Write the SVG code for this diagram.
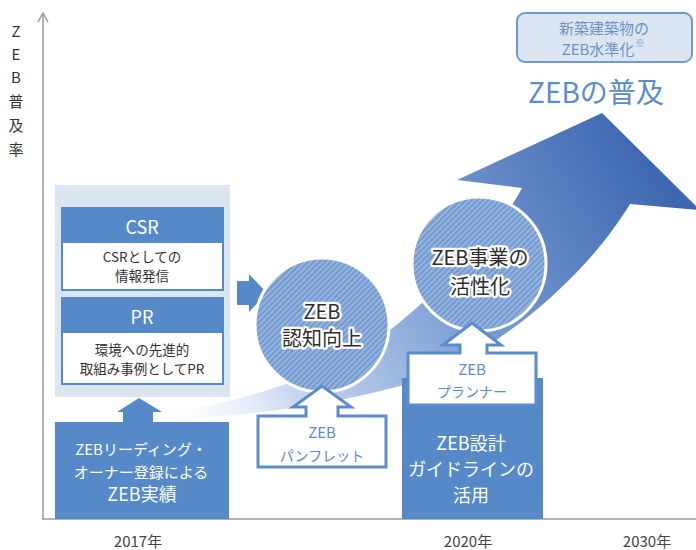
<svg xmlns="http://www.w3.org/2000/svg" width="696" height="550" viewBox="0 0 696 550">
<style>
text{font-family:"Noto Sans CJK JP","Noto Sans",sans-serif;}
.wt{fill:#ffffff;text-anchor:middle;}
.dk{fill:#333333;text-anchor:middle;}
.bl{fill:#5b8ccb;text-anchor:middle;}
.halo{fill:#2d2d2d;text-anchor:middle;stroke:#ffffff;stroke-width:4.5;stroke-linejoin:round;paint-order:stroke;font-size:20px;}
.blue{fill:#5589c8;}
.wbox{fill:#ffffff;stroke:#5589c8;stroke-width:2;}
.circ{fill:url(#hatch);stroke:#ffffff;stroke-width:3;}
.outl{fill:#ffffff;stroke:#5b8ccb;stroke-width:3;stroke-linejoin:miter;}
.axis{stroke:#9a9a9a;stroke-width:1.5;fill:none;}
</style>
<defs>
<pattern id="hatch" patternUnits="userSpaceOnUse" width="4" height="4" patternTransform="rotate(45)">
<rect width="4" height="4" fill="#729ad0"/>
<line x1="1" y1="0" x2="1" y2="4" stroke="#a9c2e6" stroke-width="1.3"/>
</pattern>
<linearGradient id="band" gradientUnits="userSpaceOnUse" x1="150" y1="425" x2="640" y2="140">
<stop offset="0" stop-color="#ffffff" stop-opacity="0"/>
<stop offset="0.25" stop-color="#c6d6ee"/>
<stop offset="0.55" stop-color="#7fa2d6"/>
<stop offset="1" stop-color="#3e67b1"/>
</linearGradient>
</defs>

<g id="axes">
<line class="axis" x1="43" y1="520" x2="43" y2="14"/>
<polyline class="axis" points="38,22 43,13 48,22"/>
<line class="axis" x1="43" y1="519" x2="696" y2="519"/>
<g class="dk" style="font-size:15px">
<text x="16" y="37">Z</text>
<text x="16" y="60">E</text>
<text x="16" y="83">B</text>
<text x="16" y="107">普</text>
<text x="16" y="131">及</text>
<text x="16" y="155">率</text>
</g>
<g class="dk" style="font-size:15px;fill:#444">
<text x="138" y="547">2017年</text>
<text x="468" y="547">2020年</text>
<text x="647" y="547">2030年</text>
</g>
</g>

<g id="growth-arrow">
<path fill="url(#band)" d="M140,418 C230,405 330,380 400,322 C450,280 500,230 522,188 L457,180 L602,113 L700,210 L630,204 C590,270 510,345 420,380 C330,408 230,418 140,420 Z"/>
</g>

<g id="goal">
<rect x="517" y="13" width="175" height="49" rx="8" fill="#dce6f2" stroke="#6f9ad0" stroke-width="2"/>
<text class="bl" x="604" y="34" style="font-size:15px;fill:#6b94c9">新築建築物の</text>
<text class="bl" x="598" y="55" style="font-size:15px;fill:#6b94c9">ZEB水準化</text>
<text x="635" y="47" style="font-size:10px;fill:#6b94c9">※</text>
<text x="528" y="103" style="font-size:28px;fill:#5b8ccb">ZEBの普及</text>
</g>

<g id="panel">
<rect x="55" y="185" width="175" height="212" fill="#dce6f1"/>
<g id="csr">
<rect class="wbox" x="62" y="242" width="161" height="48"/>
<rect class="blue" x="61" y="207" width="163" height="36"/>
<text class="wt" x="142" y="234" style="font-size:18px">CSR</text>
<text class="dk" x="142" y="262" style="font-size:13.5px">CSRとしての</text>
<text class="dk" x="142" y="281" style="font-size:13.5px">情報発信</text>
</g>
<g id="pr">
<rect class="wbox" x="62" y="332" width="161" height="52"/>
<rect class="blue" x="61" y="297" width="163" height="36"/>
<text class="wt" x="142" y="324" style="font-size:18px">PR</text>
<text class="dk" x="142" y="355" style="font-size:13.5px">環境への先進的</text>
<text class="dk" x="142" y="374" style="font-size:13.5px">取組み事例としてPR</text>
</g>
</g>

<g id="connectors">
<path class="blue" d="M237,281 L249,281 L249,274 L267,293 L249,312 L249,305 L237,305 Z"/>
<path class="blue" d="M123,422 L123,412 L117,412 L139,398 L162,412 L153,412 L153,422 Z"/>
</g>

<g id="record">
<rect class="blue" x="55" y="422" width="174" height="97"/>
<text class="wt" x="141" y="455" style="font-size:15px">ZEBリーディング・</text>
<text class="wt" x="141" y="478" style="font-size:15px">オーナー登録による</text>
<text class="wt" x="142" y="501" style="font-size:18px">ZEB実績</text>
</g>

<g id="guideline">
<rect class="blue" x="402" y="378" width="141" height="141"/>
<text class="wt" x="471" y="450" style="font-size:18px">ZEB設計</text>
<text class="wt" x="471" y="476" style="font-size:18px">ガイドラインの</text>
<text class="wt" x="471" y="502" style="font-size:18px">活用</text>
</g>

<g id="awareness">
<circle class="circ" cx="322" cy="325" r="67"/>
<text class="halo" x="322" y="319">ZEB</text>
<text class="halo" x="322" y="346">認知向上</text>
</g>

<g id="business">
<circle class="circ" cx="479" cy="264" r="67"/>
<text class="halo" x="480" y="265">ZEB事業の</text>
<text class="halo" x="480" y="294">活性化</text>
</g>

<g id="pamphlet">
<path class="outl" d="M258,416 L306,416 L306,407 L293,407 L322,386 L351,407 L338,407 L338,416 L386,416 L386,467 L258,467 Z"/>
<text class="bl" x="322" y="438" style="font-size:15px">ZEB</text>
<text class="bl" x="322" y="461" style="font-size:14px">パンフレット</text>
</g>

<g id="planner">
<path class="outl" d="M408,353 L460,353 L460,345 L443,345 L472,323 L501,345 L487,345 L487,353 L536,353 L536,405 L408,405 Z"/>
<text class="bl" x="472" y="375" style="font-size:15px">ZEB</text>
<text class="bl" x="472" y="397" style="font-size:14px">プランナー</text>
</g>
</svg>
